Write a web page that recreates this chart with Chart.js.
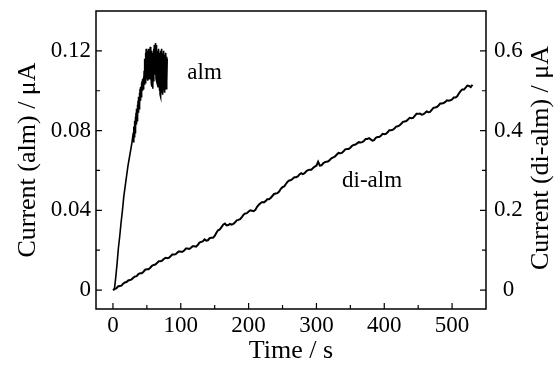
<!DOCTYPE html>
<html>
<head>
<meta charset="utf-8">
<script src="https://cdn.jsdelivr.net/npm/chart.js@4"></script>
<style>
  html, body { margin: 0; padding: 0; background: #fff; }
  #wrap { width: 556px; height: 366px; }
</style>
</head>
<body>
<div id="wrap"><canvas id="chart"></canvas></div>
<script>
// alm: current (left axis, uA) vs time (s)
const almTime = [2, 4, 6, 8, 10, 12, 14, 16, 18, 20, 22, 24, 26, 28,
  30, 30.5, 31, 31.5, 32, 32.5, 33, 33.5, 34, 34.5, 35, 35.5, 36, 36.5, 37, 37.5, 38, 38.5, 39, 39.5,
  40, 40.5, 41, 41.5, 42, 42.5, 43, 43.5, 44, 44.5, 45, 45.5, 46, 46.5, 47, 47.5, 48, 48.5, 49, 49.5,
  50, 50.5, 51, 51.5, 52, 52.5, 53, 53.5, 54, 54.5, 55, 55.5, 56, 56.5, 57, 57.5, 58, 58.5, 59, 59.5,
  60, 60.5, 61, 61.5, 62, 62.5, 63, 63.5, 64, 64.5, 65, 65.5, 66, 66.5, 67, 67.5, 68, 68.5, 69, 69.5,
  70, 70.5, 71, 71.5, 72, 72.5, 73, 73.5, 74, 74.5, 75, 75.5, 76, 76.5, 77, 77.5, 78, 78.5, 79, 79.5, 80];
const almCurrent = [0.000, 0.006, 0.013, 0.021, 0.027, 0.034, 0.040, 0.047, 0.052, 0.057, 0.062, 0.066, 0.070, 0.074,
  0.079, 0.074, 0.082, 0.077, 0.085, 0.079, 0.087, 0.081, 0.089, 0.083, 0.091, 0.085, 0.093, 0.087, 0.095, 0.089, 0.097, 0.091, 0.099, 0.093,
  0.101, 0.095, 0.102, 0.097, 0.104, 0.099, 0.105, 0.100, 0.106, 0.101, 0.107, 0.102, 0.110, 0.103, 0.116, 0.104, 0.119, 0.105, 0.121, 0.106,
  0.118, 0.107, 0.120, 0.105, 0.117, 0.108, 0.121, 0.106, 0.119, 0.109, 0.122, 0.107, 0.118, 0.104, 0.120, 0.102, 0.116, 0.101, 0.119, 0.105,
  0.121, 0.107, 0.123, 0.109, 0.122, 0.108, 0.124, 0.106, 0.123, 0.105, 0.120, 0.104, 0.118, 0.102, 0.121, 0.103, 0.119, 0.100, 0.117, 0.098,
  0.120, 0.097, 0.118, 0.099, 0.121, 0.100, 0.119, 0.098, 0.117, 0.102, 0.120, 0.101, 0.118, 0.099, 0.116, 0.103, 0.119, 0.101, 0.117, 0.104, 0.116];

// di-alm: current (right axis, uA) vs time (s)
const diTime = [0, 2.5, 5, 7.5, 10, 12.5, 15, 17.5, 20, 22.5, 25, 27.5, 30, 32.5, 35, 37.5, 40, 42.5, 45, 47.5,
  50, 52.5, 55, 57.5, 60, 62.5, 65, 67.5, 70, 72.5, 75, 77.5, 80, 82.5, 85, 87.5, 90, 92.5, 95, 97.5,
  100, 102.5, 105, 107.5, 110, 112.5, 115, 117.5, 120, 122.5, 125, 127.5, 130, 132.5, 135, 137.5, 140, 142.5, 145, 147.5,
  150, 152.5, 155, 157.5, 160, 162.5, 165, 167.5, 170, 172.5, 175, 177.5, 180, 182.5, 185, 187.5, 190, 192.5, 195, 197.5,
  200, 202.5, 205, 207.5, 210, 212.5, 215, 217.5, 220, 222.5, 225, 227.5, 230, 232.5, 235, 237.5, 240, 242.5, 245, 247.5,
  250, 252.5, 255, 257.5, 260, 262.5, 265, 267.5, 270, 272.5, 275, 277.5, 280, 282.5, 285, 287.5, 290, 292.5, 295, 297.5,
  300, 302.5, 305, 307.5, 310, 312.5, 315, 317.5, 320, 322.5, 325, 327.5, 330, 332.5, 335, 337.5, 340, 342.5, 345, 347.5,
  350, 352.5, 355, 357.5, 360, 362.5, 365, 367.5, 370, 372.5, 375, 377.5, 380, 382.5, 385, 387.5, 390, 392.5, 395, 397.5,
  400, 402.5, 405, 407.5, 410, 412.5, 415, 417.5, 420, 422.5, 425, 427.5, 430, 432.5, 435, 437.5, 440, 442.5, 445, 447.5,
  450, 452.5, 455, 457.5, 460, 462.5, 465, 467.5, 470, 472.5, 475, 477.5, 480, 482.5, 485, 487.5, 490, 492.5, 495, 497.5,
  500, 502.5, 505, 507.5, 510, 512.5, 515, 517.5, 520, 522.5, 525, 527.5, 530];
const diCurrent = [0.000, 0.003, 0.004, 0.009, 0.010, 0.011, 0.016, 0.019, 0.020, 0.024, 0.025, 0.027, 0.031, 0.034, 0.035, 0.040, 0.042, 0.042, 0.046, 0.051,
  0.052, 0.052, 0.056, 0.061, 0.063, 0.064, 0.068, 0.072, 0.072, 0.074, 0.078, 0.081, 0.080, 0.081, 0.085, 0.089, 0.089, 0.090, 0.094, 0.097,
  0.096, 0.096, 0.099, 0.104, 0.104, 0.103, 0.106, 0.110, 0.110, 0.109, 0.113, 0.119, 0.121, 0.122, 0.127, 0.124, 0.125, 0.130, 0.131, 0.131,
  0.136, 0.144, 0.150, 0.152, 0.158, 0.164, 0.167, 0.162, 0.163, 0.166, 0.164, 0.166, 0.170, 0.175, 0.176, 0.178, 0.183, 0.189, 0.192, 0.193,
  0.197, 0.200, 0.199, 0.198, 0.201, 0.209, 0.214, 0.218, 0.221, 0.220, 0.223, 0.228, 0.228, 0.231, 0.236, 0.241, 0.242, 0.243, 0.247, 0.254,
  0.258, 0.260, 0.266, 0.272, 0.275, 0.276, 0.279, 0.283, 0.283, 0.285, 0.290, 0.293, 0.291, 0.293, 0.298, 0.301, 0.302, 0.302, 0.306, 0.310,
  0.312, 0.322, 0.312, 0.313, 0.318, 0.321, 0.322, 0.323, 0.327, 0.331, 0.333, 0.335, 0.340, 0.344, 0.343, 0.344, 0.348, 0.353, 0.354, 0.354,
  0.357, 0.362, 0.364, 0.365, 0.368, 0.371, 0.370, 0.371, 0.374, 0.379, 0.379, 0.381, 0.378, 0.375, 0.376, 0.382, 0.384, 0.384, 0.387, 0.392,
  0.391, 0.392, 0.396, 0.401, 0.401, 0.402, 0.405, 0.410, 0.411, 0.413, 0.417, 0.422, 0.423, 0.424, 0.428, 0.432, 0.431, 0.432, 0.437, 0.442,
  0.442, 0.443, 0.440, 0.441, 0.444, 0.448, 0.446, 0.447, 0.452, 0.457, 0.458, 0.459, 0.463, 0.468, 0.468, 0.469, 0.472, 0.476, 0.475, 0.476,
  0.478, 0.483, 0.483, 0.486, 0.493, 0.499, 0.503, 0.503, 0.508, 0.513, 0.512, 0.509, 0.515];

// ticks
const xTicks = [0, 100, 200, 300, 400, 500];
const xMinor = [50, 150, 250, 350, 450];
const yLeftTicks = [0, 0.04, 0.08, 0.12];
const yLeftMinor = [0.02, 0.06, 0.10];
const yRightTicks = [0, 0.2, 0.4, 0.6];
const yRightMinor = [0.1, 0.3, 0.5];

const serif = "'Liberation Serif', 'Times New Roman', serif";

function fmt(v) {
  return v === 0 ? '0' : String(Number(v.toFixed(2)));
}

// frame, inward ticks, curve labels and right title
const framePlugin = {
  id: 'frame',
  afterDraw(chart) {
    const ctx = chart.ctx;
    const a = chart.chartArea;
    const sx = chart.scales.x, sy = chart.scales.y, sy2 = chart.scales.y2;
    ctx.save();
    ctx.strokeStyle = '#000';
    ctx.lineWidth = 1.5;
    ctx.strokeRect(a.left, a.top, a.right - a.left, a.bottom - a.top);

    ctx.lineWidth = 1.2;
    ctx.beginPath();
    xTicks.concat(xMinor).forEach(v => {
      const px = sx.getPixelForValue(v);
      const len = xTicks.includes(v) ? 6 : 4;
      ctx.moveTo(px, a.bottom);
      ctx.lineTo(px, a.bottom - len);
    });
    yLeftTicks.concat(yLeftMinor).forEach(v => {
      const py = sy.getPixelForValue(v);
      const len = yLeftTicks.includes(v) ? 6 : 4;
      ctx.moveTo(a.left, py);
      ctx.lineTo(a.left + len, py);
    });
    yRightTicks.concat(yRightMinor).forEach(v => {
      const py = sy2.getPixelForValue(v);
      const len = yRightTicks.includes(v) ? 6 : 4;
      ctx.moveTo(a.right, py);
      ctx.lineTo(a.right - len, py);
    });
    ctx.stroke();

    ctx.fillStyle = '#000';
    ctx.font = '23px ' + serif;
    ctx.textAlign = 'center';
    ctx.textBaseline = 'middle';
    ctx.fillText('alm', sx.getPixelForValue(135), sy.getPixelForValue(0.109));
    ctx.fillText('di-alm', sx.getPixelForValue(382), sy2.getPixelForValue(0.274));

    // right axis title reads bottom to top
    ctx.font = '26px ' + serif;
    ctx.translate(sy2.right - 15, (a.top + a.bottom) / 2 - 2);
    ctx.rotate(-Math.PI / 2);
    ctx.fillText('Current (di-alm) / μA', 0, 0);
    ctx.restore();
  }
};

const ctx = document.getElementById('chart').getContext('2d');
new Chart(ctx, {
  type: 'line',
  data: {
    datasets: [
      {
        label: 'alm',
        data: almTime.map((t, i) => ({ x: t, y: almCurrent[i] })),
        yAxisID: 'y',
        borderColor: '#000',
        borderWidth: 1.6,
        pointRadius: 0,
        tension: 0
      },
      {
        label: 'di-alm',
        data: diTime.map((t, i) => ({ x: t, y: diCurrent[i] })),
        yAxisID: 'y2',
        borderColor: '#000',
        borderWidth: 2,
        pointRadius: 0,
        tension: 0
      }
    ]
  },
  options: {
    responsive: true,
    maintainAspectRatio: false,
    animation: false,
    layout: { padding: { top: 11, left: 0, right: 0, bottom: 0 } },
    plugins: { legend: { display: false }, tooltip: { enabled: false } },
    scales: {
      x: {
        type: 'linear',
        position: 'bottom',
        min: -25,
        max: 550,
        grid: { display: false, drawTicks: false },
        border: { display: false },
        afterBuildTicks: s => { s.ticks = xTicks.map(v => ({ value: v })); },
        afterFit: s => { s.height = 57; s.paddingLeft = 0; s.paddingRight = 0; },
        ticks: {
          color: '#000',
          font: { family: serif, size: 23 },
          padding: 3,
          maxRotation: 0,
          callback: v => String(v)
        },
        title: {
          display: true,
          text: 'Time / s',
          color: '#000',
          font: { family: serif, size: 26 },
          padding: { top: 0, bottom: -1 }
        }
      },
      y: {
        type: 'linear',
        position: 'left',
        min: -0.0095,
        max: 0.14,
        grid: { display: false, drawTicks: false },
        border: { display: false },
        afterBuildTicks: s => { s.ticks = yLeftTicks.map(v => ({ value: v })); },
        afterFit: s => { s.width = 96; s.paddingTop = 0; s.paddingBottom = 0; },
        ticks: {
          color: '#000',
          font: { family: serif, size: 23 },
          padding: 5,
          callback: v => fmt(v)
        },
        title: {
          display: true,
          text: 'Current (alm) / μA',
          color: '#000',
          font: { family: serif, size: 26 },
          padding: { top: 13, bottom: 0 }
        }
      },
      y2: {
        type: 'linear',
        position: 'right',
        min: -0.0475,
        max: 0.70,
        grid: { display: false, drawTicks: false },
        border: { display: false },
        afterBuildTicks: s => { s.ticks = yRightTicks.map(v => ({ value: v })); },
        afterFit: s => { s.width = 70; s.paddingTop = 0; s.paddingBottom = 0; },
        ticks: {
          color: '#000',
          font: { family: serif, size: 23 },
          padding: 8,
          crossAlign: 'center',
          callback: v => fmt(v)
        }
      }
    }
  },
  plugins: [framePlugin]
});
</script>
</body>
</html>
